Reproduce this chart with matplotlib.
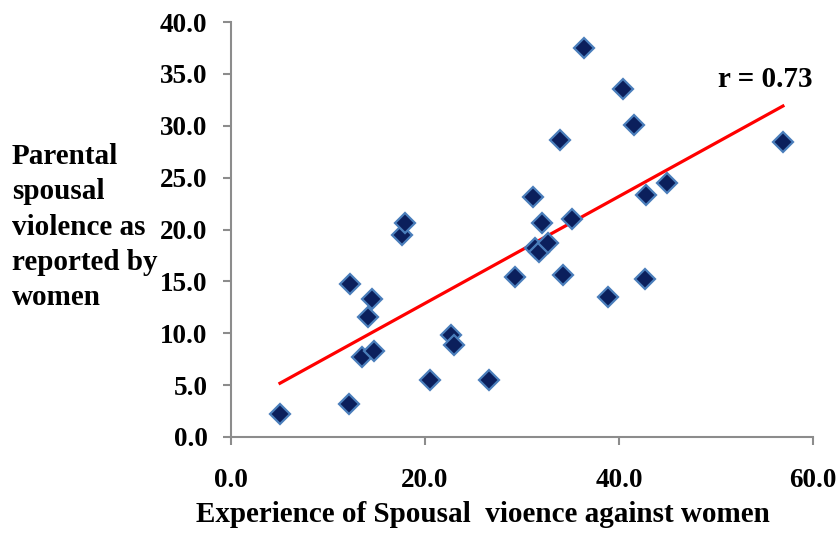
import numpy as np
import matplotlib
matplotlib.use("Agg")
import matplotlib.pyplot as plt

plt.rcParams['font.family'] = ['Liberation Serif', 'DejaVu Serif']
plt.rcParams['font.weight'] = 'bold'

# women's own experience of spousal violence (x) vs parental spousal violence (y)
experience = [5.05, 12.2, 12.3, 13.5, 14.1, 14.5, 14.7, 17.6, 17.9, 20.5,
              22.7, 23.0, 26.6, 29.3, 31.1, 31.3, 31.8, 32.1, 32.7, 33.9,
              34.2, 35.2, 36.4, 38.9, 40.4, 41.5, 42.7, 42.8, 44.9, 56.9]
parental = [2.2, 3.2, 14.7, 7.7, 11.6, 13.3, 8.3, 19.5, 20.6, 5.5,
            9.8, 8.9, 5.5, 15.4, 23.1, 18.2, 17.8, 20.6, 18.7, 28.6,
            15.6, 21.0, 37.5, 13.5, 33.5, 30.1, 15.2, 23.3, 24.5, 28.4]
x_ticks = [0, 20, 40, 60]
y_ticks = [0, 5, 10, 15, 20, 25, 30, 35, 40]
r_label = 'r = 0.73'

x = np.array(experience)
y = np.array(parental)
slope, icept = np.polyfit(x, y, 1)
xs = np.array([x.min(), x.max()])

fig = plt.figure(figsize=(8.4, 5.38), dpi=100)
ax = fig.add_axes([231 / 840, 1 - 437 / 538, (813 - 231) / 840, (437 - 22) / 538])

ax.plot(xs, icept + slope * xs, color='#ff0000', linewidth=2.3, zorder=2)
ax.plot(x, y, linestyle='none', marker='D', markersize=10,
        markerfacecolor='#0b1f5c', markeredgecolor='#4a7ebb',
        markeredgewidth=1.6, zorder=3)

ax.set_xlim(0, 60)
ax.set_ylim(0, 40)
ax.set_xticks(x_ticks)
ax.set_yticks(y_ticks)
ax.set_xticklabels([f'{v:.1f}' for v in x_ticks])
ax.set_yticklabels([f'{v:.1f}' for v in y_ticks])
ax.tick_params(axis='both', labelsize=19.5, color='#8c8c8c', width=1.5,
               length=6, direction='out')
ax.tick_params(axis='x', pad=16)
ax.tick_params(axis='y', pad=11)

for s in ['top', 'right']:
    ax.spines[s].set_visible(False)
for s in ['left', 'bottom']:
    ax.spines[s].set_color('#8c8c8c')
    ax.spines[s].set_linewidth(1.5)

ax.text(55.05, 34.5, r_label, fontsize=21, fontweight='bold', ha='center', va='center')

fig.text(483 / 840, 1 - 515 / 538, 'Experience of Spousal  vioence against women',
         fontsize=21, fontweight='bold', ha='center', va='center')
fig.text(12 / 840, 1 - 227 / 538, 'Parental\nspousal\nviolence as\nreported by\nwomen',
         fontsize=21, fontweight='bold', ha='left', va='center', linespacing=1.4)

fig.savefig('out.png', dpi=100)
